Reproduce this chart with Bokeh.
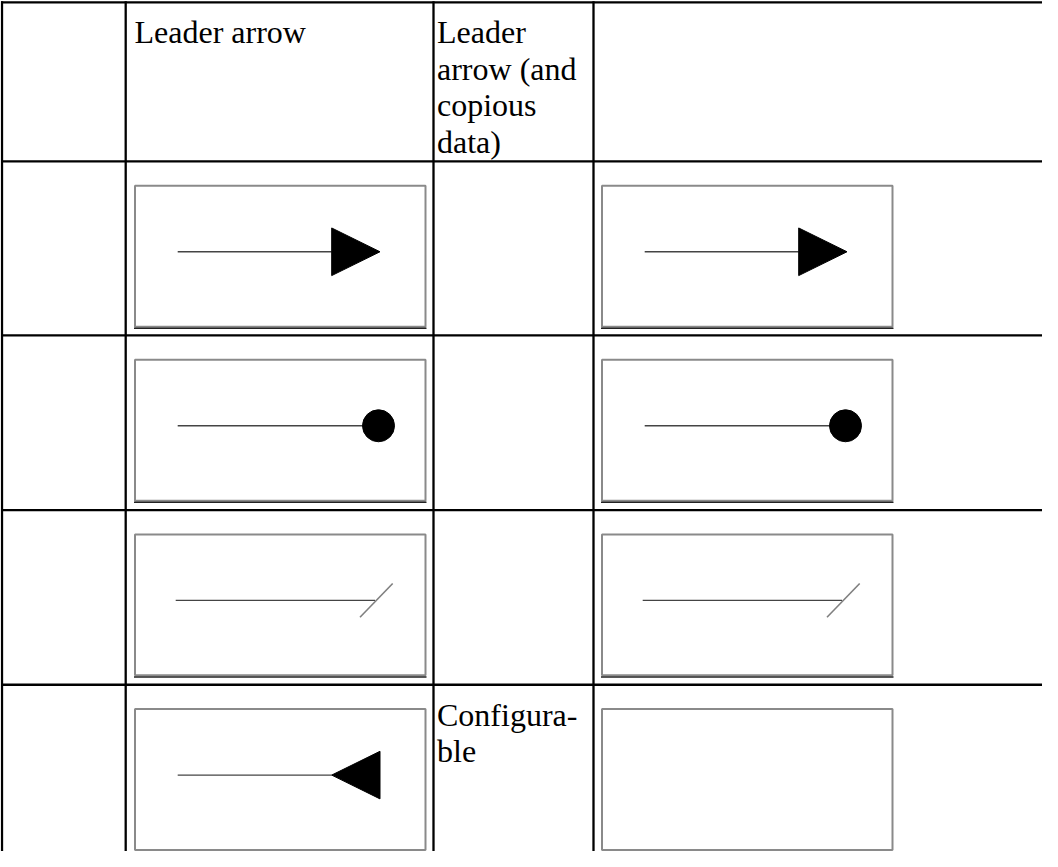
from bokeh.plotting import figure
from bokeh.models import Range1d
from bokeh.embed import file_html
from bokeh.resources import INLINE
from bokeh.core.properties import value

# ---------------- content ----------------
header_lines = [[], ["Leader arrow"], ["Leader", "arrow (and", "copious", "data)"], []]
col2_ends = ["triangle", "dot", "slash", "reverse_triangle"]
col3_lines = [[], [], [], ["Configura-", "ble"]]
col4_ends = ["triangle", "dot", "slash", "none"]

# ---------------- layout (page pixel coordinates) ----------------
W, H = 1042, 851
col_rules = [7.0, 130.7, 438.5, 598.5]
row_rules = [7.3, 167.7, 343.0, 519.0, 695.0, 871.0]
rule_right = 1075.0
rule_bottom = 880.0
text_x = [None, 139.5, 442.0, None]
first_baseline = 30.0
line_gap = 37.0
box_left = {1: 140.0, 3: 607.0}
box_w, box_h = 290.5, 142.0
box_top_off = 24.5
stem_start = 42.7
stem_dy = 66.5
tri_base = 196.7
tri_tip = 245.0
tri_half = 24.0
dot_cx = 243.5
dot_size = 32
slash_stem_end = 240.0
slash_x0, slash_x1, slash_half = 225.0, 257.7, 17.0

FONT = "Liberation Serif"

p = figure(width=W, height=H, output_backend="svg", toolbar_location=None,
           x_range=Range1d(5.5, 5.5 + W), y_range=Range1d(863, 5.5),
           x_axis_location=None, y_axis_location=None,
           min_border=0, outline_line_color=None,
           background_fill_color="white", border_fill_color="white")
p.grid.visible = False

# table rules
p.segment(x0=[col_rules[0] - 1] * len(row_rules), y0=row_rules,
          x1=[rule_right] * len(row_rules), y1=row_rules,
          line_color="black", line_width=2.3)
p.segment(x0=col_rules, y0=[row_rules[0] - 1] * len(col_rules),
          x1=col_rules, y1=[rule_bottom] * len(col_rules),
          line_color="black", line_width=2.3)

# header and text cells
tx, ty, tt = [], [], []
for c, lines in enumerate(header_lines):
    for i, s in enumerate(lines):
        tx.append(text_x[c]); ty.append(row_rules[0] + first_baseline + i * line_gap); tt.append(s)
for r, lines in enumerate(col3_lines):
    for i, s in enumerate(lines):
        tx.append(text_x[2]); ty.append(row_rules[r + 1] + first_baseline + i * line_gap); tt.append(s)
p.text(x=tx, y=ty, text=tt, text_font=value(FONT), text_font_size="32px",
       text_color="black", text_align="left", text_baseline="alphabetic")

# picture boxes with end markers
bl_, br_, bt_, bb_ = [], [], [], []
stem = {"x0": [], "x1": [], "y": []}
tri_xs, tri_ys = [], []
dot_x, dot_y = [], []
sl = {"x0": [], "y0": [], "x1": [], "y1": []}
for col, ends in ((1, col2_ends), (3, col4_ends)):
    for r, kind in enumerate(ends):
        left = box_left[col]
        top = row_rules[r + 1] + box_top_off
        bl_.append(left); br_.append(left + box_w); bt_.append(top); bb_.append(top + box_h)
        ly = top + stem_dy
        if kind == "triangle":
            stem["x0"].append(left + stem_start); stem["x1"].append(left + tri_base); stem["y"].append(ly)
            tri_xs.append([left + tri_base, left + tri_tip, left + tri_base])
            tri_ys.append([ly - tri_half, ly, ly + tri_half])
        elif kind == "reverse_triangle":
            stem["x0"].append(left + stem_start); stem["x1"].append(left + tri_base); stem["y"].append(ly)
            tri_xs.append([left + tri_tip, left + tri_base, left + tri_tip])
            tri_ys.append([ly - tri_half, ly, ly + tri_half])
        elif kind == "dot":
            stem["x0"].append(left + stem_start); stem["x1"].append(left + dot_cx); stem["y"].append(ly)
            dot_x.append(left + dot_cx); dot_y.append(ly)
        elif kind == "slash":
            stem["x0"].append(left + stem_start - 2); stem["x1"].append(left + slash_stem_end); stem["y"].append(ly)
            sl["x0"].append(left + slash_x0); sl["y0"].append(ly + slash_half)
            sl["x1"].append(left + slash_x1); sl["y1"].append(ly - slash_half)

p.quad(left=bl_, right=br_, top=bt_, bottom=bb_, fill_color="white",
       line_color="#8a8a8a", line_width=2)
p.segment(x0=[b - 1 for b in bl_], y0=[b + 1.6 for b in bb_],
          x1=[b + 1 for b in br_], y1=[b + 1.6 for b in bb_],
          line_color="#222222", line_width=1.4)

p.segment(x0=stem["x0"], y0=stem["y"], x1=stem["x1"], y1=stem["y"],
          line_color="#444444", line_width=1.4)
p.patches(xs=tri_xs, ys=tri_ys, fill_color="black", line_color="black", line_width=1)
p.scatter(x=dot_x, y=dot_y, marker="circle", size=dot_size,
          fill_color="black", line_color="black")
p.segment(x0=sl["x0"], y0=sl["y0"], x1=sl["x1"], y1=sl["y1"],
          line_color="#808080", line_width=1.6)

open("out.html", "w").write(file_html(p, INLINE))
